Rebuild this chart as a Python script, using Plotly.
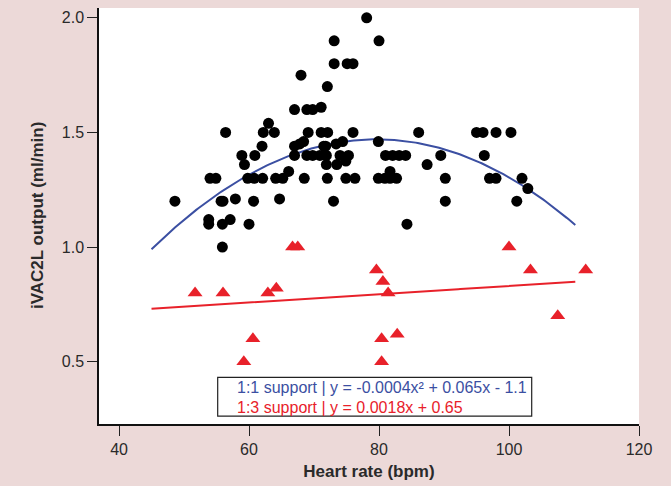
import numpy as np
import plotly.graph_objects as go

# 1:1 support (circles)
hr_11 = [48.6, 53.8, 53.8, 54.0, 54.9, 55.7, 56.0, 55.9, 55.9, 56.4, 57.1, 57.9, 58.9, 59.3,
         59.8, 60.0, 60.7, 60.8, 60.9, 62.0, 62.1, 62.2, 63.0, 63.9, 64.1, 64.7, 65.2, 66.1,
         67.0, 67.0, 67.0, 67.8, 68.0, 68.4, 68.5, 68.9, 68.9, 69.1, 69.8, 69.8, 70.9, 71.1,
         71.1, 71.5, 71.8, 71.9, 71.9, 72.05, 72.05, 72.1, 73.0, 73.1, 73.1, 73.4, 73.5, 74.0,
         74.4, 74.9, 74.9, 75.1, 75.3, 76.0, 76.0, 76.3, 78.1, 79.9, 79.9, 80.0, 80.9, 81.0,
         81.7, 81.7, 82.1, 82.7, 83.1, 84.1, 84.3, 86.1, 87.4, 89.5, 90.2, 90.2, 95.0, 96.0,
         96.2, 97.0, 98.0, 98.0, 100.3, 101.2, 102.0, 102.9]
out_11 = [1.20, 1.12, 1.10, 1.30, 1.30, 1.20, 1.20, 1.10, 1.00, 1.50, 1.12, 1.21, 1.40, 1.36,
          1.30, 1.10, 1.20, 1.30, 1.40, 1.44, 1.30, 1.50, 1.54, 1.50, 1.30, 1.21, 1.30, 1.33,
          1.60, 1.44, 1.40, 1.45, 1.75, 1.46, 1.30, 1.60, 1.40, 1.50, 1.60, 1.40, 1.40, 1.61,
          1.50, 1.44, 1.44, 1.40, 1.36, 1.70, 1.30, 1.50, 1.20, 1.90, 1.80, 1.45, 1.36, 1.40,
          1.46, 1.375, 1.30, 1.80, 1.40, 1.80, 1.50, 1.30, 2.00, 1.46, 1.30, 1.90, 1.30, 1.40,
          1.33, 1.30, 1.40, 1.30, 1.40, 1.40, 1.10, 1.50, 1.36, 1.40, 1.30, 1.20, 1.50, 1.50,
          1.40, 1.30, 1.30, 1.50, 1.50, 1.20, 1.30, 1.255]

# 1:3 support (triangles)
hr_13 = [51.7, 56.0, 59.2, 60.6, 62.9, 64.2, 66.7, 67.5, 79.6, 80.4, 80.4, 80.6, 81.4, 82.8,
         100.0, 103.3, 107.5, 111.8]
out_13 = [0.80, 0.80, 0.50, 0.60, 0.80, 0.82, 1.00, 1.00, 0.90, 0.60, 0.50, 0.85, 0.80, 0.62,
          1.00, 0.90, 0.70, 0.90]

# Fitted trend lines (as drawn in the figure)
fit_11_coef = [-0.0004, 0.0637, -1.066]
fit_13_coef = [0.0018, 0.65]
fit_x_range = [45.0, 110.2]

legend_11 = "1:1 support | y = -0.0004x\u00b2 + 0.065x - 1.1"
legend_13 = "1:3 support | y = 0.0018x + 0.65"

x_ticks = [40, 60, 80, 100, 120]
y_ticks = [0.5, 1.0, 1.5, 2.0]

BLUE = "#3b4fa2"
RED = "#e8212a"
BG = "#ecd9d8"
TXT = "#2a2a2a"
FONT = "Liberation Sans, Arial, sans-serif"

fx = np.linspace(fit_x_range[0], fit_x_range[1], 200)
fy11 = np.polyval(fit_11_coef, fx)
fy13 = np.polyval(fit_13_coef, fx)

fig = go.Figure()
fig.add_trace(go.Scatter(x=fx, y=fy11, mode="lines", line=dict(color=BLUE, width=2),
                         showlegend=False, hoverinfo="skip"))
fig.add_trace(go.Scatter(x=fx, y=fy13, mode="lines", line=dict(color=RED, width=2),
                         showlegend=False, hoverinfo="skip"))
fig.add_trace(go.Scatter(x=hr_11, y=out_11, mode="markers", name=legend_11,
                         marker=dict(symbol="circle", size=11, color="black"),
                         showlegend=False))
fig.add_trace(go.Scatter(x=hr_13, y=out_13, mode="markers", name=legend_13,
                         marker=dict(symbol="triangle-up", size=13, color=RED),
                         showlegend=False))

# Manual legend box (positions in plot-area fractions)
box = dict(x0=0.2198, x1=0.8013, y0=0.0191, y1=0.1122)
row_y = [0.0866, 0.0406]
key_x = 0.2346
text_x = 0.2519

fig.add_shape(type="rect", xref="paper", yref="paper", x0=box["x0"], x1=box["x1"],
              y0=box["y0"], y1=box["y1"], line=dict(color="#222", width=1.2),
              fillcolor="white", layer="above")
fig.add_trace(go.Scatter(x=[key_x, key_x], y=row_y, xaxis="x2", yaxis="y2", mode="markers",
                         marker=dict(symbol=["circle", "triangle-up"], size=[7, 9],
                                     color=["black", RED]),
                         showlegend=False, hoverinfo="skip"))
for txt, yy, col in [(legend_11, row_y[0], BLUE), (legend_13, row_y[1], RED)]:
    fig.add_annotation(x=text_x, y=yy, xref="paper", yref="paper", text=txt,
                       showarrow=False, xanchor="left", yanchor="middle",
                       font=dict(family=FONT, size=16, color=col))

# Y axis title
fig.add_annotation(x=-0.1148, y=0.5, xref="paper", yref="paper",
                   text="<b>iVAC2L output (ml/min)</b>", textangle=-90, showarrow=False,
                   xanchor="center", yanchor="middle",
                   font=dict(family=FONT, size=17, color=TXT))

fig.update_layout(
    width=671, height=486,
    margin=dict(l=99, r=32, t=8, b=59),
    paper_bgcolor=BG, plot_bgcolor="white",
    font=dict(family=FONT, size=16, color=TXT),
    xaxis=dict(range=[36.92, 120.0], tickvals=x_ticks, ticks="outside", ticklen=10,
               tickwidth=1.2, tickcolor="#222", showline=True, linecolor="#111",
               linewidth=1.5, showgrid=False, zeroline=False,
               tickfont=dict(size=16, color=TXT),
               title=dict(text="<b>Heart rate (bpm)</b>", font=dict(size=17, color=TXT),
                          standoff=8)),
    yaxis=dict(range=[0.228, 2.043], tickvals=y_ticks, tickformat=".1f", ticks="outside",
               ticklen=10, tickwidth=1.2, tickcolor="#222", showline=True, linecolor="#111",
               linewidth=1.5, showgrid=False, zeroline=False,
               tickfont=dict(size=16, color=TXT)),
    xaxis2=dict(overlaying="x", range=[0, 1], visible=False, fixedrange=True),
    yaxis2=dict(overlaying="y", range=[0, 1], visible=False, fixedrange=True),
)

fig.write_html("out.html", config={"displayModeBar": False},
               post_script="document.body.style.margin='0';")
